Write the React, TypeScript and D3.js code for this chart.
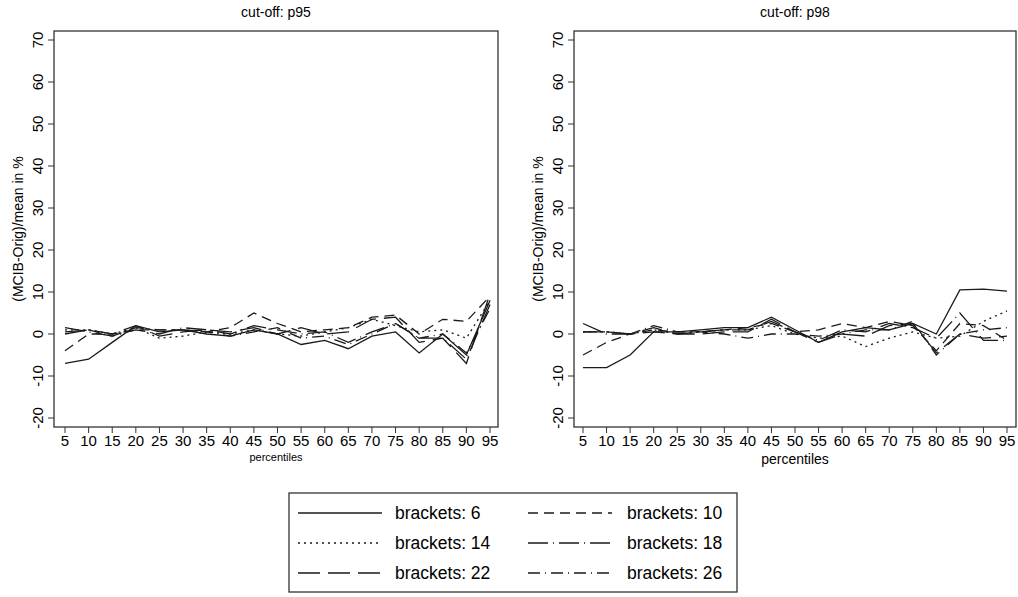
import React from 'react';
import * as d3 from 'd3';

const percentiles = [5, 10, 15, 20, 25, 30, 35, 40, 45, 50, 55, 60, 65, 70, 75, 80, 85, 90, 95];
const yTicks = [-20, -10, 0, 10, 20, 30, 40, 50, 60, 70];
const bracketNames = ['brackets: 6', 'brackets: 10', 'brackets: 14', 'brackets: 18', 'brackets: 22', 'brackets: 26'];

// cut-off p95
const p95b6 = [-7, -6, -2, 2, 0.5, 1, 0, -0.5, 1, 0, -2.5, -1.5, -3.5, -0.5, 0.5, -4.5, 0, -5, 8];
const p95b10 = [-4, 0, 0, 1, 1, 1, 0.5, 1.5, 5, 2.5, 0.5, 1, 1.5, 4, 4.5, 0, 3.5, 3, 9];
const p95b14 = [1, 1, 0, 1.5, -1, -0.5, 0.5, 0, 1, 0, -0.5, 0.5, 1.5, 3.5, 2, 0.5, 1, -1, 8];
const p95b18 = [1.5, 0.5, -0.5, 1, 0, 1.5, 1, 0, 2, 1, 0, 0.5, -2, 0.5, 2.5, -1, -1, -6, 7];
const p95b22 = [0, 1, 0, 2, -0.5, 0.5, 1, 0.5, 1.5, 0, 1.5, 0, 0.5, 3.5, 4, -2, -1, -7, 9.5];
const p95b26 = [0.5, 1, -0.5, 1.5, 1, 1, 0.5, -0.5, 0.5, 1.5, -1, -0.5, -2.5, 0, 2.5, -1, 0, -4.5, 6];

// cut-off p98
const p98b6 = [-8, -8, -5, 0.5, 0.5, 1, 1.5, 1.5, 4, 1, -2, 0.5, 1.5, 1, 2.5, 0, 10.5, 10.7, 10.2];
const p98b10 = [-5, -2, 0, 1, 0.5, 0.5, 1, 1.5, 2.5, 0.5, 1, 2.5, 1.5, 3, 2, -4, 2.5, 2, -1.5];
const p98b14 = [0.5, 0.5, 0, 1, 0, 0.5, 1, 1, 2, 0, -1, -0.5, -3, -1, 0.5, -1, -0.5, 3, 5.5];
const p98b18 = [2.5, 0, 0, 1.5, 0, 0.5, 1, 1, 3, 0.5, -1.5, 1, 0.5, 2.5, 1.5, -1, 5, -1.5, -1.5];
const p98b22 = [0.5, 0.5, 0, 0.5, 0, 0, 0.5, 0.5, 3.5, 0.5, -2, 0, -0.5, 2, 2.5, -4.5, 0, -1, -0.5];
const p98b26 = [0.5, 0.5, 0, 2, 0.5, 0.5, 0, -1, 0, 0, -0.5, 0, 1, 1, 3, -5, 0, 1, 1.5];

const dashes = ['none', '10,6', '2,4', '20,5,1,5', '22,8', '12,5,1,5'];
const FONT = '"Liberation Sans", Arial, sans-serif';

const App = () => {
  const ref = React.useRef<SVGSVGElement>(null);

  React.useEffect(() => {
    const svg = d3.select(ref.current);
    svg.selectAll('*').remove();
    svg.attr('width', 1018).attr('height', 597).style('font-family', FONT);

    const panels = [
      { title: 'cut-off: p95', left: 54, right: 498, x0: 65, x1: 490, xlabSize: 11, series: [p95b6, p95b10, p95b14, p95b18, p95b22, p95b26] },
      { title: 'cut-off: p98', left: 574, right: 1016, x0: 583, x1: 1007, xlabSize: 14, series: [p98b6, p98b10, p98b14, p98b18, p98b22, p98b26] },
    ];
    const top = 31;
    const bottom = 427;

    panels.forEach((p) => {
      const x = d3.scaleLinear().domain([5, 95]).range([p.x0, p.x1]);
      const y = d3.scaleLinear().domain([-20, 70]).range([418, 40]);
      const g = svg.append('g');

      g.append('rect')
        .attr('x', p.left).attr('y', top)
        .attr('width', p.right - p.left).attr('height', bottom - top)
        .attr('fill', 'none').attr('stroke', '#333').attr('stroke-width', 1.3);

      // y axis ticks + rotated labels
      const yt = g.append('g');
      yt.selectAll('line').data(yTicks).join('line')
        .attr('x1', p.left - 6).attr('x2', p.left)
        .attr('y1', (d) => y(d)).attr('y2', (d) => y(d))
        .attr('stroke', '#333');
      yt.selectAll('text').data(yTicks).join('text')
        .attr('transform', (d) => `translate(${p.left - 11},${y(d)}) rotate(-90)`)
        .attr('text-anchor', 'middle')
        .attr('font-size', 15)
        .text((d) => d);

      // x axis
      const xt = g.append('g');
      xt.selectAll('line').data(percentiles).join('line')
        .attr('x1', (d) => x(d)).attr('x2', (d) => x(d))
        .attr('y1', bottom).attr('y2', bottom + 6)
        .attr('stroke', '#333');
      xt.selectAll('text').data(percentiles).join('text')
        .attr('x', (d) => x(d)).attr('y', bottom + 19)
        .attr('text-anchor', 'middle')
        .attr('font-size', 15)
        .text((d) => d);

      g.append('text')
        .attr('x', (p.left + p.right) / 2).attr('y', p.xlabSize > 12 ? 464 : 461)
        .attr('text-anchor', 'middle').attr('font-size', p.xlabSize)
        .text('percentiles');

      g.append('text')
        .attr('x', (p.left + p.right) / 2).attr('y', 17)
        .attr('text-anchor', 'middle').attr('font-size', 14)
        .text(p.title);

      g.append('text')
        .attr('transform', `translate(${p.left - 31},${(top + bottom) / 2}) rotate(-90)`)
        .attr('text-anchor', 'middle').attr('font-size', 14)
        .text('(MCIB-Orig)/mean in %');

      const line = d3.line<number>()
        .x((_, i) => x(percentiles[i]))
        .y((d) => y(d));

      g.append('g').selectAll('path').data(p.series).join('path')
        .attr('d', (d) => line(d))
        .attr('fill', 'none')
        .attr('stroke', '#1a1a1a')
        .attr('stroke-width', 1.3)
        .attr('stroke-dasharray', (_, i) => dashes[i]);
    });

    // legend
    const lg = svg.append('g');
    lg.append('rect')
      .attr('x', 289).attr('y', 493).attr('width', 448).attr('height', 99)
      .attr('fill', 'none').attr('stroke', '#333').attr('stroke-width', 1.3);
    const rowY = [513, 543, 573];
    bracketNames.forEach((name, i) => {
      const col = i % 2;
      const row = Math.floor(i / 2);
      const lx = col === 0 ? 298 : 528;
      lg.append('line')
        .attr('x1', lx).attr('x2', lx + 84)
        .attr('y1', rowY[row]).attr('y2', rowY[row])
        .attr('stroke', '#1a1a1a').attr('stroke-width', 1.5)
        .attr('stroke-dasharray', dashes[i]);
      lg.append('text')
        .attr('x', col === 0 ? 395 : 627).attr('y', rowY[row] + 6)
        .attr('font-size', 17.5)
        .text(name);
    });
  }, []);

  return <svg ref={ref} style={{ position: 'absolute', left: 0, top: 0 }}></svg>;
};

export default App;
